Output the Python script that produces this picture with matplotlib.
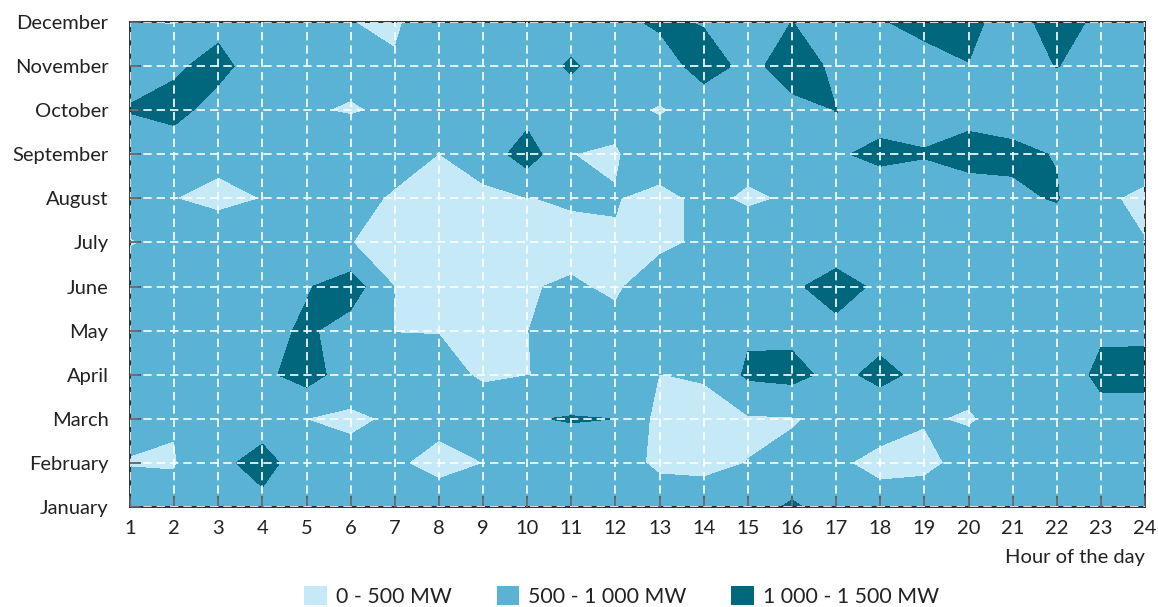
import matplotlib
matplotlib.use('Agg')
import matplotlib.pyplot as plt
from matplotlib.patches import Patch
import numpy as np

plt.rcParams['font.family'] = ['Lato', 'DejaVu Sans']

# data: output in MW, one row per month (Jan..Dec), one column per hour 1..24
hours = list(range(1, 25))
months = ['January', 'February', 'March', 'April', 'May', 'June', 'July',
          'August', 'September', 'October', 'November', 'December']
load_mw = [
    [702, 657, 750, 877, 750, 750, 750, 624, 750, 750, 750, 750, 740, 712, 750, 1080, 750, 610, 733, 1010, 750, 750, 750, 750],   # Jan
    [480, 470, 900, 1150, 765, 642, 530, 430, 498, 495, 700, 670, 420, 400, 505, 600, 536, 430, 400, 630, 750, 750, 750, 750],    # Feb
    [605, 530, 750, 800, 495, 420, 556, 565, 850, 972, 1030, 998, 350, 380, 450, 470, 600, 610, 525, 470, 620, 750, 885, 784],     # Mar
    [1005, 750, 750, 892, 1200, 750, 700, 700, 420, 490, 600, 750, 495, 530, 1080, 1150, 850, 1150, 850, 600, 750, 784, 1080, 1150],  # Apr
    [750, 750, 750, 830, 1080, 780, 490, 480, 350, 480, 1005, 597, 750, 750, 930, 875, 936, 800, 750, 750, 750, 750, 949, 916],    # May
    [590, 750, 750, 750, 962, 1250, 490, 320, 300, 480, 535, 450, 700, 750, 750, 963, 1100, 953, 750, 750, 750, 750, 750, 750],    # Jun
    [490, 533, 750, 750, 750, 505, 400, 300, 300, 350, 400, 480, 420, 560, 700, 750, 856, 750, 750, 750, 750, 750, 750, 511],      # Jul
    [590, 505, 400, 505, 750, 635, 450, 350, 400, 490, 537, 514, 400, 580, 450, 535, 750, 784, 820, 856, 940, 1025, 575, 400],     # Aug
    [740, 720, 608, 750, 750, 766, 667, 495, 700, 1250, 502, 470, 700, 750, 617, 750, 962, 1080, 1020, 1100, 1060, 985, 750, 733],  # Sep
    [1020, 1150, 800, 750, 530, 470, 554, 750, 750, 800, 750, 590, 470, 620, 750, 850, 1005, 858, 877, 908, 877, 750, 750, 750],   # Oct
    [880, 930, 1150, 730, 750, 605, 535, 750, 750, 750, 1060, 750, 700, 1250, 850, 1250, 900, 750, 894, 990, 850, 1010, 850, 750],  # Nov
    [510, 470, 860, 750, 750, 505, 450, 728, 750, 750, 750, 840, 1100, 960, 750, 1005, 800, 982, 1080, 1100, 820, 1200, 892, 750],  # Dec
]
levels = [0, 500, 1000, 1500]
band_labels = ['0 - 500 MW', '500 - 1 000 MW', '1 000 - 1 500 MW']
band_colors = ['#c6e9f8', '#5ab3d5', '#00677d']

fig = plt.figure(figsize=(11.58, 6.07), dpi=100)
ax = fig.add_axes([0.1123, 0.1647, 0.8765, 0.7991])

Z = np.array(load_mw, dtype=float)
ax.contourf(hours, np.arange(len(months)), Z, levels=levels, colors=band_colors)

ax.set_xlim(1, 24)
ax.set_ylim(0, 11)
ax.set_xticks(hours)
ax.set_yticks(range(len(months)))
ax.set_yticklabels(months)
ax.tick_params(direction='in', length=8, width=1.2, color='#555555',
               labelsize=14.5, labelcolor='#222222')
ax.tick_params(axis='x', pad=9)
ax.tick_params(axis='y', pad=15.5)

ax.set_axisbelow(False)
ax.grid(True, color='white', linestyle=(0, (5, 3)), linewidth=1.2)
for s in ax.spines.values():
    s.set_color('#222222')
    s.set_linewidth(1.3)

fig.text(0.9888, 0.081, 'Hour of the day', ha='right', va='center',
         fontsize=14.5, color='#222222')

handles = [Patch(facecolor=c, edgecolor='none') for c in band_colors]
fig.legend(handles, band_labels, loc='center', bbox_to_anchor=(0.537, 0.018),
           ncol=3, frameon=False, fontsize=15.3, handlelength=1.05, handleheight=1.05,
           handletextpad=0.45, columnspacing=2.1, labelcolor='#222222')

fig.savefig('out.png', dpi=100, facecolor='white')
